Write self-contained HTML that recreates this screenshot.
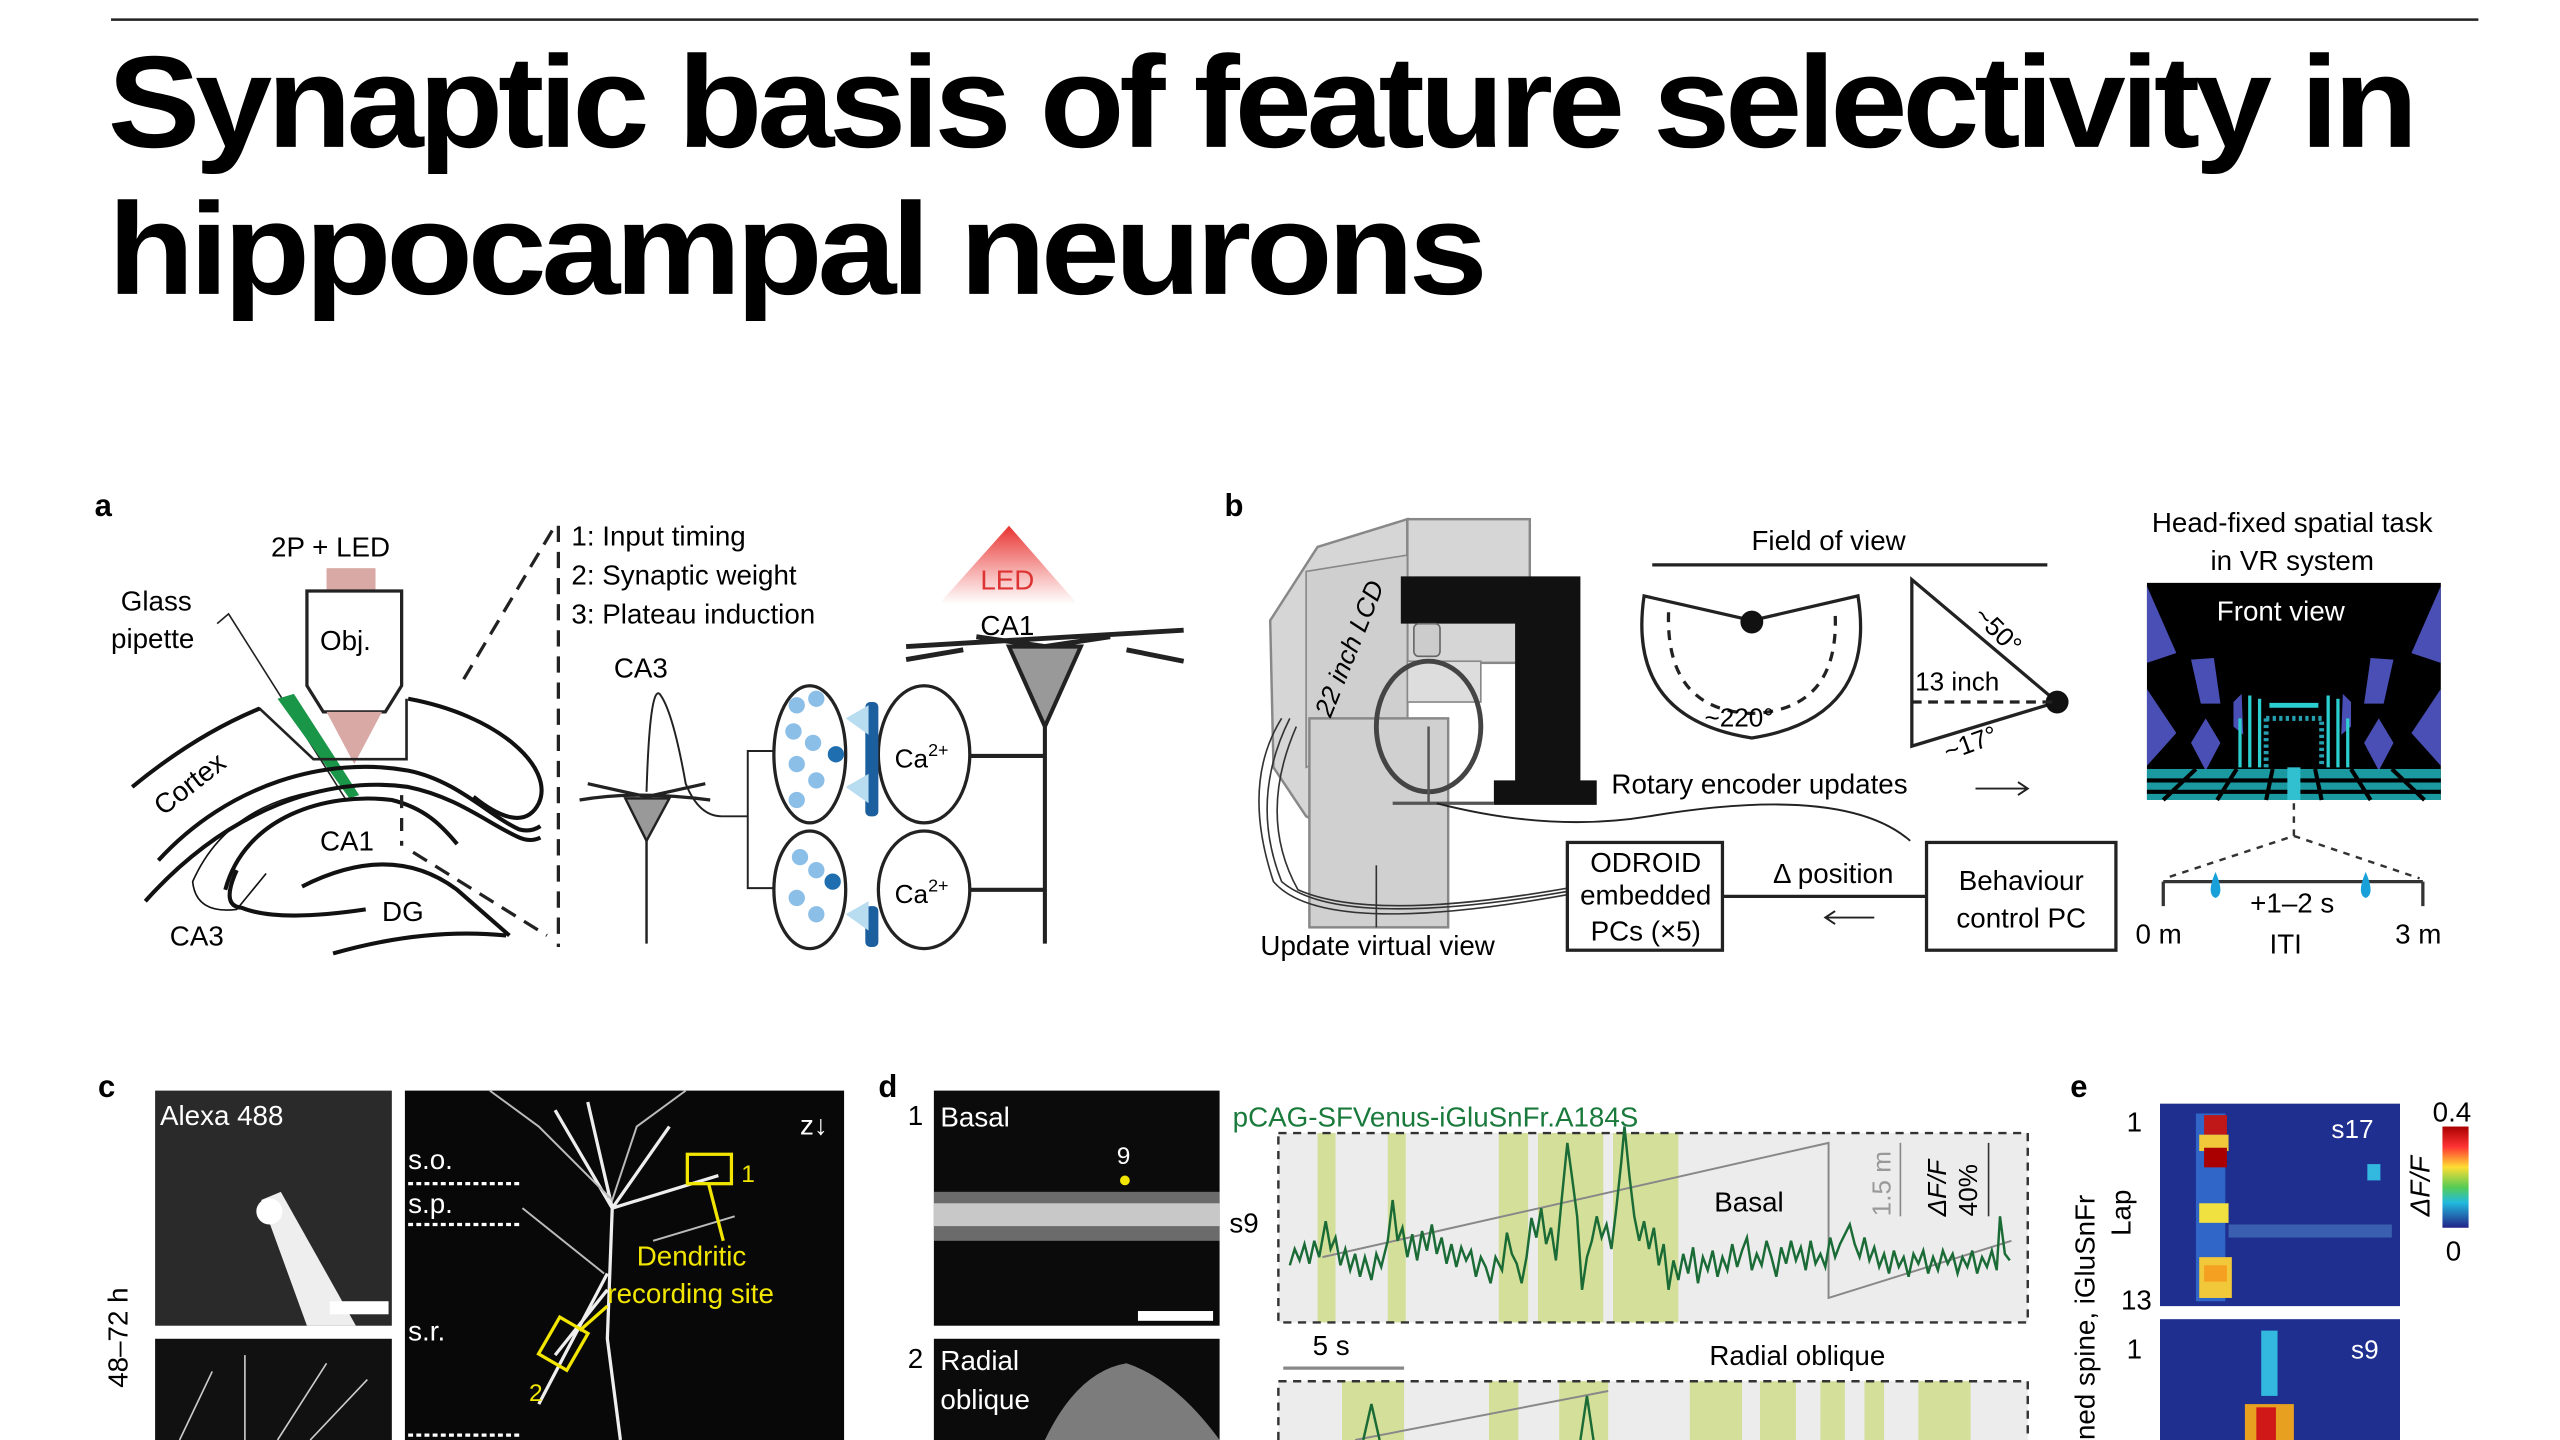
<!DOCTYPE html>
<html><head><meta charset="utf-8"><style>
html,body{margin:0;padding:0;background:#fff;width:2560px;height:1440px;overflow:hidden}
svg{display:block}
text{font-family:"Liberation Sans",sans-serif}
</style></head><body>
<svg width="2560" height="1440" viewBox="0 0 1568 882" preserveAspectRatio="none">
<defs>
<linearGradient id="led" x1="0" y1="0" x2="0" y2="1"><stop offset="0" stop-color="#e8322f"/><stop offset="1" stop-color="#fff" stop-opacity="0.9"/></linearGradient>
<linearGradient id="cb" x1="0" y1="0" x2="0" y2="1"><stop offset="0" stop-color="#a00"/><stop offset=".2" stop-color="#f33"/><stop offset=".4" stop-color="#fd3"/><stop offset=".6" stop-color="#5c5"/><stop offset=".75" stop-color="#2bd"/><stop offset="1" stop-color="#228"/></linearGradient>
</defs>
<line x1="68" y1="12" x2="1518" y2="12" stroke="#222" stroke-width="1.5"/>
<text x="66" y="90" font-size="80" font-weight="bold" textLength="1412" lengthAdjust="spacingAndGlyphs" letter-spacing="-3">Synaptic basis of feature selectivity in</text>
<text x="66" y="180" font-size="80" font-weight="bold" textLength="842" lengthAdjust="spacingAndGlyphs" letter-spacing="-3">hippocampal neurons</text>

<!-- Panel a -->
<g font-size="17">
<text x="58" y="316" font-size="19" font-weight="bold">a</text>
<text x="166" y="341">2P + LED</text>
<rect x="200" y="348" width="30" height="14" fill="#d9a9a6"/>
<path d="M188 362 H246 V420 L236 436 H198 L188 420 Z" fill="#fff" stroke="#222" stroke-width="2"/>
<text x="196" y="398">Obj.</text>
<path d="M200 436 L234 436 L217 468 Z" fill="#d9a9a6"/>
<text x="74" y="374">Glass</text>
<text x="68" y="397">pipette</text>
<path d="M133 382 L140 376 L212 490" fill="none" stroke="#222" stroke-width="1"/>
<path d="M170 428 L180 425 L220 487 L214 489 Z" fill="#1a9648"/>
<path d="M81 482 Q120 450 159 434 L192 465 H249 V428" fill="none" stroke="#222" stroke-width="1.6"/>
<path d="M81 482 Q120 450 159 434" fill="none" stroke="#111" stroke-width="2.5"/>
<path d="M250 428 C305 438 340 470 330 492 C322 508 305 500 290 488" fill="none" stroke="#111" stroke-width="2.5"/>
<path d="M97 527 C140 480 200 463 250 472 C280 478 300 500 318 508 Q325 510 331 506" fill="none" stroke="#111" stroke-width="2.5"/>
<path d="M89 552 C140 495 200 475 250 482 C280 488 300 505 318 513 Q325 516 331 513" fill="none" stroke="#111" stroke-width="2.5"/>
<path d="M138 545 C150 500 200 485 240 490 C260 495 270 505 280 517" fill="none" stroke="#111" stroke-width="2.5"/>
<path d="M145 533 Q135 555 148 556 Q170 565 224 557" fill="none" stroke="#111" stroke-width="2.5"/>
<path d="M185 543 Q240 515 280 545 L312 573" fill="none" stroke="#111" stroke-width="2.5"/>
<path d="M204 584 Q260 568 310 573" fill="none" stroke="#111" stroke-width="2.5"/>
<path d="M205 483 Q140 490 118 540 Q120 560 145 557 L163 535" fill="none" stroke="#111" stroke-width="1"/>
<text x="100" y="500" transform="rotate(-38 100 500)">Cortex</text>
<text x="196" y="521">CA1</text>
<text x="234" y="564">DG</text>
<text x="104" y="579">CA3</text>
<path d="M284 416 L340 322" stroke="#222" stroke-width="2" stroke-dasharray="10,6"/>
<path d="M253 522 L335 573" stroke="#222" stroke-width="2" stroke-dasharray="10,6"/>
<line x1="246" y1="487" x2="246" y2="518" stroke="#222" stroke-width="2" stroke-dasharray="8,6"/>
<line x1="342" y1="322" x2="342" y2="580" stroke="#222" stroke-width="2" stroke-dasharray="10,6"/>
<text x="350" y="334">1: Input timing</text>
<text x="350" y="358">2: Synaptic weight</text>
<text x="350" y="382">3: Plateau induction</text>
<text x="376" y="415">CA3</text>
<path d="M355 490 Q390 484 435 490 M360 480 L396 488 L432 480" fill="none" stroke="#222" stroke-width="2"/>
<path d="M383 489 H410 L396 515 Z" fill="#999" stroke="#222" stroke-width="1.5"/>
<line x1="396" y1="515" x2="396" y2="578" stroke="#222" stroke-width="1.5"/>
<path d="M396 485 Q398 420 404 425 Q412 435 420 480 Q428 500 442 500 H458 V460 H475 M458 500 V544 H475" fill="none" stroke="#222" stroke-width="1.2"/>
<path d="M575 370 L618 322 L660 370 Z" fill="url(#led)"/>
<text x="617" y="361" text-anchor="middle" fill="#d33">LED</text>
<text x="617" y="389" text-anchor="middle">CA1</text>
<path d="M555 396 L725 386 M555 404 L590 398 M690 398 L725 405 M598 390 L640 396 L680 390" fill="none" stroke="#222" stroke-width="3"/>
<path d="M618 396 H662 L640 445 Z" fill="#999" stroke="#222" stroke-width="2.5"/>
<line x1="640" y1="445" x2="640" y2="578" stroke="#222" stroke-width="2.5"/>
<line x1="590" y1="463" x2="640" y2="463" stroke="#222" stroke-width="2.5"/>
<line x1="590" y1="545" x2="640" y2="545" stroke="#222" stroke-width="2.5"/>
<ellipse cx="496" cy="462" rx="22" ry="42" fill="#fff" stroke="#222" stroke-width="2"/>
<ellipse cx="496" cy="545" rx="22" ry="36" fill="#fff" stroke="#222" stroke-width="2"/>
<ellipse cx="566" cy="462" rx="28" ry="42" fill="#fff" stroke="#222" stroke-width="2"/>
<ellipse cx="566" cy="545" rx="28" ry="36" fill="#fff" stroke="#222" stroke-width="2"/>
<g fill="#8cbfe8"><circle cx="488" cy="432" r="5"/><circle cx="500" cy="428" r="5"/><circle cx="486" cy="448" r="5"/><circle cx="498" cy="455" r="5"/><circle cx="488" cy="468" r="5"/><circle cx="500" cy="478" r="5"/><circle cx="488" cy="490" r="5"/><circle cx="490" cy="525" r="5"/><circle cx="500" cy="533" r="5"/><circle cx="488" cy="550" r="5"/><circle cx="500" cy="560" r="5"/></g>
<g fill="#1f6fb0"><circle cx="512" cy="462" r="5"/><circle cx="510" cy="540" r="5"/><rect x="530" y="430" width="8" height="70" rx="3" fill="#1b5f9e"/><rect x="530" y="555" width="8" height="25" rx="3" fill="#1b5f9e"/></g>
<path d="M518 440 L532 432 L532 450 Z M518 482 L532 474 L532 492 Z M518 560 L532 552 L532 570 Z" fill="#b8dcf0"/>
<text x="548" y="470" font-size="16">Ca<tspan font-size="11" dy="-7">2+</tspan></text>
<text x="548" y="553" font-size="16">Ca<tspan font-size="11" dy="-7">2+</tspan></text>
</g>

<!-- Panel b -->
<g font-size="17">
<text x="750" y="316" font-size="19" font-weight="bold">b</text>
<path d="M807 335 L862 318 L862 532 L800 500 L780 470 L778 380 Z" fill="#d6d6d6" stroke="#888" stroke-width="1.5"/>
<rect x="862" y="318" width="75" height="88" fill="#d6d6d6" stroke="#888" stroke-width="1.5"/>
<path d="M800 350 L862 340 V440 L800 470 Z" fill="#cfcfcf" stroke="#888" stroke-width="1"/>
<rect x="802" y="440" width="85" height="128" fill="#d0d0d0" stroke="#888" stroke-width="1.5"/>
<rect x="862" y="405" width="45" height="25" fill="#ddd" stroke="#888"/>
<text x="815" y="440" transform="rotate(-68 815 440)" font-size="16" font-style="italic">22 inch LCD</text>
<path d="M858 353 H968 V478 H978 V493 H915 V478 H928 V382 H858 Z" fill="#111"/>
<rect x="866" y="382" width="16" height="20" rx="3" fill="#ccc" stroke="#666"/>
<ellipse cx="875" cy="445" rx="32" ry="40" fill="none" stroke="#444" stroke-width="3"/>
<line x1="875" y1="445" x2="875" y2="492" stroke="#555" stroke-width="1.5"/>
<line x1="853" y1="492" x2="915" y2="492" stroke="#555" stroke-width="2"/>
<path d="M880 492 Q950 510 1010 500 Q1130 480 1170 515" fill="none" stroke="#222" stroke-width="1.2"/>
<text x="987" y="486">Rotary encoder updates</text>
<path d="M1210 483 H1242 M1236 479 L1242 483 L1236 487" fill="none" stroke="#222" stroke-width="1.2"/>
<path d="M785 440 Q760 480 780 540 Q810 575 960 548 M790 440 Q765 490 785 540 Q820 570 960 546 M794 445 Q770 500 795 545 Q840 565 960 544" fill="none" stroke="#333" stroke-width="1"/>
<line x1="843" y1="530" x2="843" y2="568" stroke="#333"/>
<text x="772" y="585">Update virtual view</text>
<text x="1120" y="337" text-anchor="middle">Field of view</text>
<line x1="1012" y1="346" x2="1254" y2="346" stroke="#222" stroke-width="2"/>
<path d="M1007 365 L1073 380 L1138 365 Q1150 440 1073 452 Q996 440 1007 365 Z" fill="#fff" stroke="#222" stroke-width="2"/>
<circle cx="1073" cy="381" r="7" fill="#111"/>
<path d="M1022 375 Q1020 435 1073 437 Q1127 435 1124 375" fill="none" stroke="#222" stroke-width="2" stroke-dasharray="6,5"/>
<text x="1044" y="445" font-size="16">~220°</text>
<path d="M1171 355 L1260 430 L1171 457 Z" fill="#fff" stroke="#222" stroke-width="2"/>
<circle cx="1260" cy="430" r="7" fill="#111"/>
<line x1="1171" y1="430" x2="1258" y2="430" stroke="#222" stroke-width="2" stroke-dasharray="6,4"/>
<text x="1173" y="423" font-size="16">13 inch</text>
<text x="1208" y="378" font-size="16" transform="rotate(45 1208 378)">~50°</text>
<text x="1193" y="466" font-size="16" transform="rotate(-20 1193 466)">~17°</text>
<rect x="960" y="516" width="95" height="66" fill="#fff" stroke="#222" stroke-width="2"/>
<text x="1008" y="534" text-anchor="middle">ODROID</text>
<text x="1008" y="554" text-anchor="middle">embedded</text>
<text x="1008" y="576" text-anchor="middle">PCs (×5)</text>
<rect x="1180" y="516" width="116" height="66" fill="#fff" stroke="#222" stroke-width="2"/>
<text x="1238" y="545" text-anchor="middle">Behaviour</text>
<text x="1238" y="568" text-anchor="middle">control PC</text>
<line x1="1055" y1="549" x2="1180" y2="549" stroke="#222" stroke-width="2"/>
<text x="1086" y="541">Δ position</text>
<path d="M1118 562 H1148 M1124 558 L1118 562 L1124 566" fill="none" stroke="#222" stroke-width="1.2"/>
<text x="1404" y="326" text-anchor="middle">Head-fixed spatial task</text>
<text x="1404" y="349" text-anchor="middle">in VR system</text>
<rect x="1315" y="357" width="180" height="133" fill="#000"/>
<g fill="#4a4fb5">
<path d="M1315 359 L1333 400 L1315 406 Z M1315 422 L1333 449 L1315 469 Z M1342 404 L1356 403 L1360 431 L1348 431 Z M1342 455 L1351 440 L1360 455 L1351 472 Z M1368 430 L1373 425 L1374 450 L1368 445 Z"/>
<path d="M1495 359 L1477 400 L1495 406 Z M1495 422 L1477 449 L1495 469 Z M1466 404 L1452 403 L1448 431 L1460 431 Z M1466 455 L1457 440 L1448 455 L1457 472 Z M1440 430 L1435 425 L1434 450 L1440 445 Z"/>
</g>
<g fill="none" stroke="#2ccfcf" stroke-width="2">
<path d="M1378 426 V470 M1384 428 V470 M1426 426 V470 M1432 428 V470 M1372 440 V470 M1438 440 V470"/>
<path d="M1388 440 H1422 V470 M1388 440 V470" stroke="#26a0b0" stroke-dasharray="2,2" stroke-width="3"/>
<path d="M1390 432 H1420" stroke-width="3"/>
</g>
<rect x="1315" y="471" width="180" height="19" fill="#1a9aa0"/>
<path d="M1315 478 H1495 M1315 485 H1495 M1345 471 L1325 490 M1370 471 L1358 490 M1392 471 L1388 490 M1418 471 L1422 490 M1440 471 L1452 490 M1465 471 L1485 490" stroke="#000" stroke-width="2.5"/>
<rect x="1401" y="470" width="8" height="20" fill="#30c0d0"/>
<text x="1397" y="380" text-anchor="middle" fill="#fff">Front view</text>
<path d="M1405 492 V512 L1326 538 M1405 512 L1482 538" fill="none" stroke="#333" stroke-width="1.5" stroke-dasharray="4,4"/>
<path d="M1325 540 H1484 M1325 540 V555 M1484 540 V555" fill="none" stroke="#333" stroke-width="2"/>
<path d="M1357 534 Q1351 548 1357 550 Q1363 548 1357 534 Z M1449 534 Q1443 548 1449 550 Q1455 548 1449 534 Z" fill="#1aa0d8"/>
<text x="1308" y="578">0 m</text>
<text x="1467" y="578">3 m</text>
<text x="1404" y="559" text-anchor="middle">+1–2 s</text>
<text x="1400" y="584" text-anchor="middle">ITI</text>
</g>

<!-- Panel c -->
<g font-size="17">
<text x="60" y="672" font-size="19" font-weight="bold">c</text>
<rect x="95" y="668" width="145" height="144" fill="#2a2a2a"/>
<path d="M160 735 L172 730 L218 812 L188 812 Z" fill="#eee"/>
<circle cx="165" cy="742" r="8" fill="#fff"/>
<rect x="202" y="797" width="36" height="8" fill="#fff"/>
<text x="98" y="689" fill="#fff">Alexa 488</text>
<rect x="95" y="820" width="145" height="62" fill="#111"/>
<path d="M110 882 L130 840 M150 882 L150 830 M170 882 L200 835 M190 882 L225 845" stroke="#ccc" stroke-width="1"/>
<text x="78" y="850" transform="rotate(-90 78 850)">48–72 h</text>
<rect x="248" y="668" width="269" height="214" fill="#080808"/>
<path d="M375 740 L372 820 L380 882 M375 740 L340 680 M375 740 L410 690 M375 740 L360 675 M375 740 L440 720 M372 790 L340 830 M372 780 L330 860" fill="none" stroke="#eee" stroke-width="2"/>
<path d="M300 668 L330 690 L375 735 L390 690 L420 668 M320 740 L370 780 M400 760 L450 745" fill="none" stroke="#bbb" stroke-width="1.2"/>
<path d="M250 725 H318 M250 750 H318 M250 879 H318" stroke="#fff" stroke-width="2" stroke-dasharray="3,2"/>
<text x="250" y="716" fill="#fff">s.o.</text>
<text x="250" y="743" fill="#fff">s.p.</text>
<text x="250" y="821" fill="#fff">s.r.</text>
<text x="490" y="695" fill="#fff">z↓</text>
<rect x="421" y="707" width="27" height="18" fill="none" stroke="#f2e600" stroke-width="2"/>
<text x="454" y="724" fill="#f2e600" font-size="15">1</text>
<line x1="434" y1="725" x2="443" y2="760" stroke="#f2e600" stroke-width="2"/>
<rect x="335" y="810" width="20" height="26" fill="none" stroke="#f2e600" stroke-width="2" transform="rotate(30 345 823)"/>
<line x1="355" y1="815" x2="372" y2="800" stroke="#f2e600" stroke-width="2"/>
<text x="324" y="858" fill="#f2e600" font-size="15">2</text>
<text x="390" y="775" fill="#f2e600">Dendritic</text>
<text x="372" y="798" fill="#f2e600">recording site</text>
</g>

<!-- Panel d -->
<g font-size="17">
<text x="538" y="672" font-size="19" font-weight="bold">d</text>
<rect x="572" y="668" width="175" height="144" fill="#0b0b0b"/>
<rect x="572" y="730" width="175" height="30" fill="#bbb" opacity=".55"/>
<rect x="572" y="737" width="175" height="14" fill="#e0e0e0" opacity=".8"/>
<rect x="697" y="803" width="46" height="6" fill="#fff"/>
<circle cx="689" cy="723" r="3" fill="#f2e600"/>
<text x="684" y="713" fill="#fff" font-size="15">9</text>
<text x="556" y="689">1</text><text x="576" y="690" fill="#fff">Basal</text>
<rect x="572" y="820" width="175" height="62" fill="#0b0b0b"/>
<path d="M640 882 Q660 840 690 835 Q720 845 747 882 Z" fill="#999" opacity=".8"/>
<text x="556" y="838">2</text><text x="576" y="839" fill="#fff">Radial</text><text x="576" y="863" fill="#fff">oblique</text>
<text x="755" y="690" fill="#1a7a3c">pCAG-SFVenus-iGluSnFr.A184S</text>
<rect x="783" y="694" width="459" height="116" fill="#ececec"/>
<g fill="#d4e09a"><rect x="807" y="694" width="11" height="116"/><rect x="850" y="694" width="11" height="116"/><rect x="918" y="694" width="18" height="116"/><rect x="942" y="694" width="40" height="116"/><rect x="988" y="694" width="40" height="116"/></g>
<rect x="783" y="694" width="459" height="116" fill="none" stroke="#333" stroke-width="1.5" stroke-dasharray="5,4"/>
<path d="M810 770 L1120 700 V795 L1232 760" fill="none" stroke="#888" stroke-width="1.2"/>
<line x1="1164" y1="700" x2="1164" y2="745" stroke="#888"/>
<line x1="1218" y1="700" x2="1218" y2="745" stroke="#333"/>
<text x="1050" y="742">Basal</text>
<text x="1158" y="745" transform="rotate(-90 1158 745)" fill="#999" font-size="16">1.5 m</text>
<text x="1192" y="745" transform="rotate(-90 1192 745)" font-size="16" font-style="italic">ΔF/F</text>
<text x="1211" y="745" transform="rotate(-90 1211 745)" font-size="16">40%</text>
<text x="753" y="755">s9</text>
<polyline fill="none" stroke="#1a6b36" stroke-width="1.5" points="790,775 793,765 796,772 799,762 802,774 805,760 808,770 812,748 815,765 818,758 821,775 824,765 827,778 830,768 833,782 836,770 840,784 843,768 846,776 850,760 853,735 856,760 859,752 862,770 865,756 868,772 871,754 874,766 877,750 880,768 883,758 886,774 889,762 892,776 895,764 898,772 901,766 904,782 907,770 910,776 913,786 916,770 920,778 923,755 926,768 929,774 932,786 935,770 938,746 941,758 944,740 947,762 950,752 953,772 956,740 960,700 963,722 966,745 969,790 972,770 975,760 978,745 981,758 984,750 987,765 990,740 993,712 995,690 998,720 1001,745 1004,760 1007,748 1010,765 1013,752 1016,775 1019,762 1022,790 1025,772 1028,784 1031,768 1034,780 1037,764 1040,786 1043,770 1046,778 1049,766 1052,782 1055,770 1058,778 1061,762 1064,776 1067,766 1070,758 1073,778 1076,768 1079,775 1082,760 1085,770 1088,782 1091,764 1094,774 1097,760 1100,772 1103,764 1106,778 1109,760 1112,774 1115,768 1118,776 1121,758 1124,770 1127,762 1130,756 1133,750 1136,762 1139,770 1142,758 1145,772 1148,764 1151,776 1154,768 1157,780 1160,766 1163,776 1166,770 1169,782 1172,768 1175,774 1178,766 1181,780 1184,770 1187,778 1190,766 1193,774 1196,768 1199,780 1202,770 1205,776 1208,766 1211,780 1214,770 1217,776 1220,766 1223,778 1225,745 1228,768 1231,772"/>
<text x="804" y="830">5 s</text>
<line x1="786" y1="838" x2="860" y2="838" stroke="#888" stroke-width="2"/>
<text x="1047" y="836">Radial oblique</text>
<rect x="783" y="846" width="459" height="36" fill="#ececec"/>
<g fill="#d4e09a"><rect x="822" y="846" width="38" height="36"/><rect x="912" y="846" width="18" height="36"/><rect x="955" y="846" width="30" height="36"/><rect x="1035" y="846" width="32" height="36"/><rect x="1078" y="846" width="22" height="36"/><rect x="1115" y="846" width="15" height="36"/><rect x="1142" y="846" width="12" height="36"/><rect x="1175" y="846" width="32" height="36"/></g>
<path d="M783 882 V846 H1242 V882" fill="none" stroke="#333" stroke-width="1.5" stroke-dasharray="5,4"/>
<path d="M830 882 L985 852" stroke="#888" stroke-width="1.2"/>
<path d="M835 882 L840 860 L845 882 M968 882 L972 855 L976 882" fill="none" stroke="#1a6b36" stroke-width="1.5"/>
</g>

<!-- Panel e -->
<g font-size="17">
<text x="1268" y="672" font-size="19" font-weight="bold">e</text>
<rect x="1323" y="676" width="147" height="124" fill="#1e2f8f"/>
<rect x="1345" y="682" width="18" height="115" fill="#2f66c8"/>
<rect x="1350" y="683" width="14" height="12" fill="#c01818"/>
<rect x="1347" y="695" width="18" height="10" fill="#f0c83a"/>
<rect x="1350" y="703" width="14" height="12" fill="#a00"/>
<rect x="1347" y="737" width="18" height="12" fill="#f0e040"/>
<rect x="1347" y="770" width="20" height="25" fill="#f0c83a"/>
<rect x="1350" y="775" width="14" height="10" fill="#f5a020"/>
<rect x="1365" y="750" width="100" height="8" fill="#3a5fb0"/>
<rect x="1450" y="713" width="8" height="10" fill="#33b8e0"/>
<text x="1428" y="697" fill="#fff" font-size="16">s17</text>
<rect x="1323" y="808" width="147" height="74" fill="#1e2f8f"/>
<rect x="1385" y="815" width="10" height="40" fill="#33b8e0"/>
<rect x="1375" y="860" width="30" height="22" fill="#e8a020"/>
<rect x="1382" y="862" width="12" height="20" fill="#d01818"/>
<text x="1440" y="832" fill="#fff" font-size="16">s9</text>
<text x="1312" y="693" text-anchor="end">1</text>
<text x="1318" y="802" text-anchor="end">13</text>
<text x="1312" y="832" text-anchor="end">1</text>
<text x="1305" y="757" transform="rotate(-90 1305 757)">Lap</text>
<text x="1283" y="882" transform="rotate(-90 1283 882)">ned spine, iGluSnFr</text>
<rect x="1496" y="690" width="16" height="62" fill="url(#cb)"/>
<text x="1490" y="687">0.4</text>
<text x="1498" y="772">0</text>
<text x="1488" y="745" transform="rotate(-90 1488 745)" font-style="italic">ΔF/F</text>
</g>
</svg>
</body></html>
